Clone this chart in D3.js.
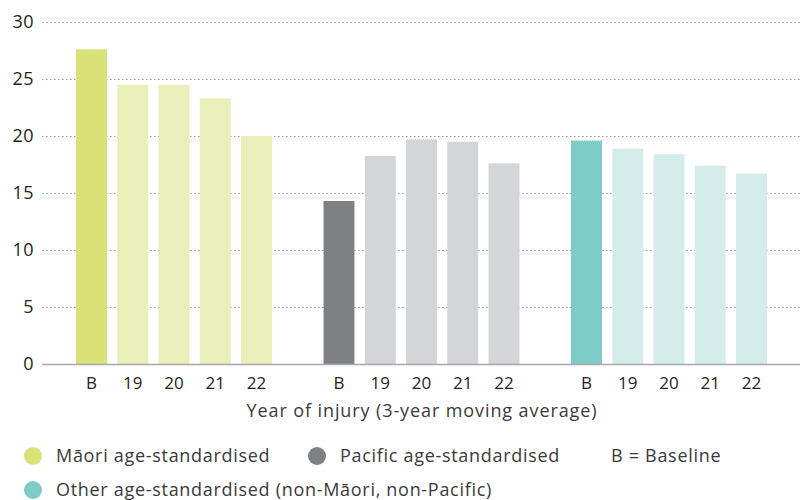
<!DOCTYPE html>
<html>
<head>
<meta charset="utf-8">
<script src="https://cdn.jsdelivr.net/npm/d3@7"></script>
<style>
  body { margin: 0; background: #fff; }
  svg { display: block; font-family: "Open Sans", "Lato", sans-serif; }
</style>
</head>
<body>
<div id="chart"><svg></svg></div>
<script>
const years = ["B", "19", "20", "21", "22"];
const groups = ["Māori", "Pacific", "Other"];
const maoriValues = [27.6, 24.5, 24.5, 23.3, 20.0];
const pacificValues = [14.3, 18.25, 19.7, 19.5, 17.6];
const otherValues = [19.6, 18.9, 18.4, 17.4, 16.7];
const yTicks = [0, 5, 10, 15, 20, 25, 30];
const legendLabels = [
  "Māori age-standardised",
  "Pacific age-standardised",
  "Other age-standardised (non-Māori, non-Pacific)"
];

const width = 800,
      height = 500;

// base colour for baseline bar, light one for the years
const colours = {
  "Māori": ["#d9e276", "#e9efb9"],
  "Pacific": ["#7f8083", "#d4d5d7"],
  "Other": ["#7eccc8", "#d5edea"]
};

const seriesValues = [maoriValues, pacificValues, otherValues];

// build flat list of slots, with an empty slot between groups
const slots = [];
const bars = [];
groups.forEach((g, gi) => {
  years.forEach((yr, i) => {
    const key = g + "-" + yr;
    slots.push(key);
    bars.push({ key: key, group: g, year: yr, value: seriesValues[gi][i], base: i === 0 });
  });
  if (gi < groups.length - 1) slots.push("gap-" + gi);
});

const svg = d3.select("svg")
  .attr("width", width)
  .attr("height", height);

const x = d3.scaleBand()
  .domain(slots)
  .range([65.7, 777.3])
  .paddingInner(0.25)
  .paddingOuter(0.25);

const y = d3.scaleLinear()
  .domain([0, 30])
  .range([364, 22]);

// Gridlines
svg.append("g")
  .selectAll("line")
  .data(yTicks.filter(d => d > 0))
  .enter()
  .append("line")
  .attr("x1", 42)
  .attr("x2", width)
  .attr("y1", d => y(d) + 0.5)
  .attr("y2", d => y(d) + 0.5)
  .attr("stroke", "#9a9a9a")
  .attr("stroke-width", 1)
  .attr("stroke-dasharray", "1.5,2.5");

// Y tick labels
svg.append("g")
  .selectAll("text")
  .data(yTicks)
  .enter()
  .append("text")
  .attr("x", 34)
  .attr("y", d => y(d))
  .attr("dy", "0.36em")
  .attr("text-anchor", "end")
  .attr("font-size", 18)
  .attr("letter-spacing", "0.5px")
  .attr("fill", "#231f20")
  .text(d => d);

// Bars
svg.append("g")
  .selectAll("rect")
  .data(bars)
  .enter()
  .append("rect")
  .attr("x", d => x(d.key))
  .attr("width", x.bandwidth())
  .attr("y", d => y(d.value))
  .attr("height", d => y(0) - y(d.value))
  .attr("fill", d => colours[d.group][d.base ? 0 : 1]);

// Baseline axis
svg.append("line")
  .attr("x1", 42)
  .attr("x2", width)
  .attr("y1", y(0) + 0.5)
  .attr("y2", y(0) + 0.5)
  .attr("stroke", "#a7a7a9")
  .attr("stroke-width", 1.5);

// X tick labels
svg.append("g")
  .selectAll("text")
  .data(bars)
  .enter()
  .append("text")
  .attr("x", d => x(d.key) + x.bandwidth() / 2)
  .attr("y", 389)
  .attr("text-anchor", "middle")
  .attr("font-size", 17)
  .attr("fill", "#231f20")
  .text(d => d.year);

// Axis title
svg.append("text")
  .attr("x", 422)
  .attr("y", 417)
  .attr("text-anchor", "middle")
  .attr("font-size", 18)
  .attr("letter-spacing", "0.9px")
  .attr("fill", "#3a3a3a")
  .text("Year of injury (3-year moving average)");

// Legend
const legendItems = [
  { label: legendLabels[0], colour: colours["Māori"][0], cx: 33, cy: 456 },
  { label: legendLabels[1], colour: colours["Pacific"][0], cx: 317, cy: 456 },
  { label: legendLabels[2], colour: colours["Other"][0], cx: 33, cy: 490 }
];

const legend = svg.append("g").attr("class", "legend");

legend.selectAll("circle")
  .data(legendItems)
  .enter()
  .append("circle")
  .attr("cx", d => d.cx)
  .attr("cy", d => d.cy)
  .attr("r", 9)
  .attr("fill", d => d.colour);

legend.selectAll("text")
  .data(legendItems)
  .enter()
  .append("text")
  .attr("x", d => d.cx + 23)
  .attr("y", d => d.cy)
  .attr("dy", "0.36em")
  .attr("font-size", 18)
  .attr("letter-spacing", "0.7px")
  .attr("fill", "#3a3a3a")
  .text(d => d.label);

legend.append("text")
  .attr("x", 611)
  .attr("y", 456)
  .attr("dy", "0.36em")
  .attr("font-size", 18)
  .attr("letter-spacing", "0.7px")
  .attr("fill", "#3a3a3a")
  .text("B = Baseline");
</script>
</body>
</html>
